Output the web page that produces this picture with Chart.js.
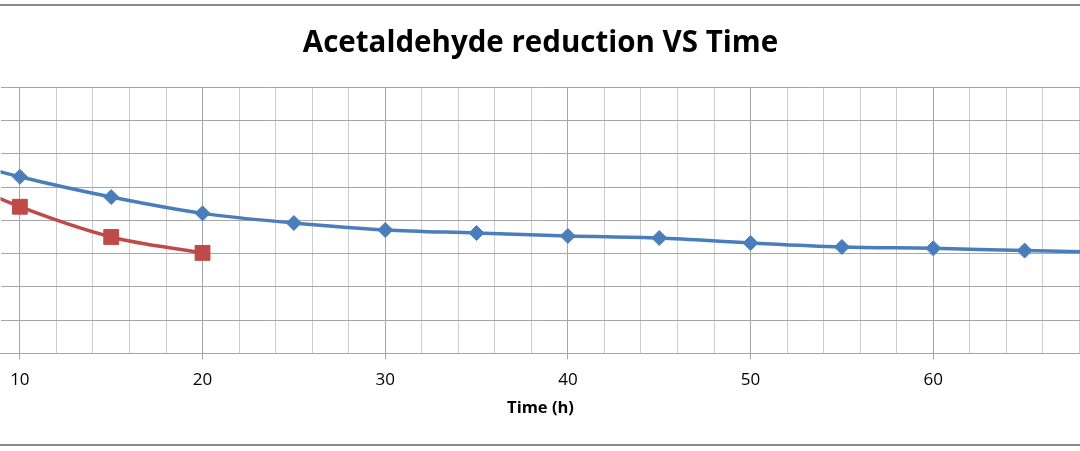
<!DOCTYPE html>
<html>
<head>
<meta charset="utf-8">
<script src="https://cdn.jsdelivr.net/npm/chart.js@4/dist/chart.umd.min.js"></script>
<style>
  html, body { margin: 0; padding: 0; background: #fff; overflow: hidden; }
  #wrap { width: 1080px; height: 451px; position: relative; overflow: hidden; }
  #chart { position: absolute; left: -11px; top: 0; }
</style>
</head>
<body>
<div id="wrap"><canvas id="chart" width="1103" height="451"></canvas></div>
<script>
// x values (hours) and the two series
const timeBlue = [5, 10, 15, 20, 25, 30, 35, 40, 45, 50, 55, 60, 65, 70];
const valuesBlue = [6.05, 5.31, 4.70, 4.21, 3.92, 3.71, 3.62, 3.53, 3.47, 3.32, 3.20, 3.16, 3.09, 3.03];
const timeRed = [5, 10, 15, 20];
const valuesRed = [5.6, 4.41, 3.50, 3.02];
const labeledTicks = [10, 20, 30, 40, 50, 60];

const toPoints = (xs, ys) => xs.map((x, i) => ({ x: x, y: ys[i] }));

const isMajor = (v) => labeledTicks.includes(Math.round(v));

// the outer frame lines of the original chart box
const frame = {
  id: "frame",
  afterDraw(chart) {
    const ctx = chart.ctx;
    ctx.save();
    ctx.strokeStyle = "#8c8c8c";
    ctx.lineWidth = 2;
    ctx.beginPath();
    ctx.moveTo(0, 5);
    ctx.lineTo(chart.width, 5);
    ctx.moveTo(0, 445);
    ctx.lineTo(chart.width, 445);
    ctx.stroke();
    ctx.restore();
  },
};

const config = {
  type: "line",
  data: {
    datasets: [
      {
        label: "Series 1",
        data: toPoints(timeBlue, valuesBlue),
        borderColor: "#4a7ebb",
        backgroundColor: "#4a7ebb",
        borderWidth: 3.5,
        pointStyle: "rectRot",
        pointRadius: 7.5,
        pointBorderWidth: 1,
        tension: 0.35,
      },
      {
        label: "Series 2",
        data: toPoints(timeRed, valuesRed),
        borderColor: "#be4b48",
        backgroundColor: "#be4b48",
        borderWidth: 3.5,
        pointStyle: "rect",
        pointRadius: 10.5,
        pointBorderWidth: 1,
        tension: 0.35,
      },
    ],
  },
  options: {
    responsive: false,
    animation: false,
    devicePixelRatio: 1,
    layout: { padding: { top: 0, right: 0, bottom: 0, left: 0 } },
    plugins: {
      legend: { display: false },
      tooltip: { enabled: false },
      title: {
        display: true,
        text: "Acetaldehyde reduction VS Time",
        color: "#000",
        font: { family: "Open Sans", weight: "bold", size: 29.5 },
        padding: { top: 26, bottom: 26 },
      },
    },
    scales: {
      x: {
        type: "linear",
        min: 8.94,
        max: 68.06,
        afterFit: (scale) => {
          scale.height = 451 - 353.3;
        },
        ticks: {
          stepSize: 2,
          includeBounds: false,
          autoSkip: false,
          maxRotation: 0,
          padding: 11,
          color: "#000",
          font: { family: "Open Sans", size: 17 },
          callback: (v) => (isMajor(v) ? String(Math.round(v)) : ""),
        },
        grid: {
          color: (c) => (c.tick && isMajor(c.tick.value) ? "#a6a6a6" : "#cdcdcd"),
          tickColor: (c) => (c.tick && isMajor(c.tick.value) ? "#a6a6a6" : "rgba(0,0,0,0)"),
          tickLength: 6,
          lineWidth: 1,
        },
        border: { color: "#a6a6a6", width: 1 },
        title: {
          display: true,
          text: "Time (h)",
          color: "#000",
          font: { family: "Open Sans", weight: "bold", size: 16.5 },
          padding: { top: 0, bottom: 33 },
        },
      },
      y: {
        min: 0,
        max: 8,
        ticks: { display: false, stepSize: 1 },
        grid: { color: "#a6a6a6", drawTicks: false, lineWidth: 1 },
        border: { display: false },
        afterFit: (scale) => {
          scale.width = 0;
        },
      },
    },
  },
  plugins: [frame],
};

new Chart(document.getElementById("chart"), config);
</script>
</body>
</html>
